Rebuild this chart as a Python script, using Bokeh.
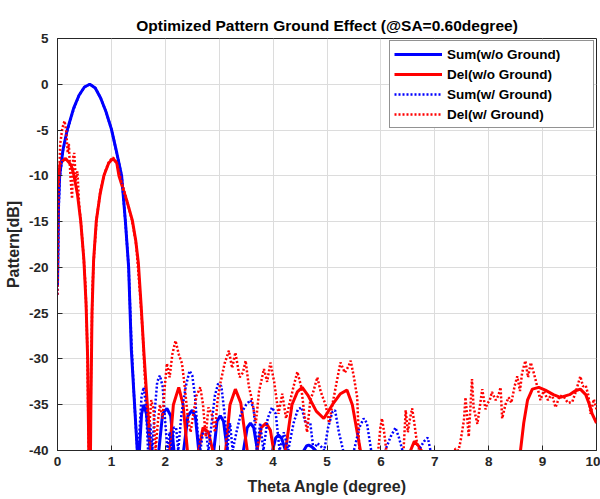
from bokeh.plotting import figure
from bokeh.models import Legend, LegendItem, FixedTicker
from bokeh.embed import file_html
from bokeh.resources import INLINE

# ---- data ----
sum_nog_x = [0, 0.02, 0.04, 0.1, 0.18, 0.3, 0.4, 0.5, 0.6, 0.7, 0.8, 0.9, 1.0, 1.1, 1.19, 1.26, 1.32, 1.37, 1.42, 1.48,
             1.5, 1.52, 1.56, 1.6, 1.65, 1.72, 1.8, 1.88, 1.95, 2.03, 2.1, 2.16, 2.25, 2.34, 2.42, 2.5, 2.56, 2.62,
             2.76, 2.9, 2.96, 3.02, 3.08, 3.15, 3.3, 3.45, 3.52, 3.58, 3.64, 3.71, 3.85, 3.99, 4.05, 4.1, 4.16,
             4.23, 4.4, 4.57, 4.62, 4.66, 4.72, 4.79, 4.9, 10]
sum_nog_y = [-22, -13, -10, -7.2, -5, -2.6, -1.2, -0.3, 0, -0.4, -1.5, -3, -4.9, -7.5, -10, -15, -20, -29, -34, -40,
             -42, -40, -36, -35, -36, -40, -46, -40, -36, -35.4, -36.2, -40, -46, -40, -36.2, -35.6, -36.4, -40,
             -46, -40, -36.8, -36.2, -36.8, -40, -46, -40, -37.5, -37, -37.5, -40, -46, -40, -38.6, -38.3, -38.7,
             -40, -46, -40, -39.5, -39.4, -39.6, -40, -46, -46]

del_nog_x = [0, 0.05, 0.15, 0.25, 0.3, 0.37, 0.43, 0.49, 0.53, 0.56, 0.58, 0.6, 0.62, 0.64, 0.67, 0.72, 0.79, 0.86,
             0.95, 1.03, 1.1, 1.14, 1.22, 1.3, 1.39, 1.45, 1.5, 1.55, 1.6, 1.66, 1.73, 1.78,
             1.95, 2.08, 2.15, 2.25, 2.33, 2.41, 2.5, 2.62, 2.7, 2.8, 2.88, 3.0, 3.12, 3.2, 3.3, 3.4, 3.52, 3.6,
             3.7, 3.78, 3.87, 3.95, 4.01, 4.12, 4.23, 4.35, 4.45, 4.54, 4.65, 4.8, 4.94, 5.1, 5.25, 5.37, 5.47,
             5.56, 5.62, 5.7, 6.45, 6.55, 6.62, 6.7, 6.75, 6.85, 8.5, 8.59, 8.65, 8.72, 8.81, 8.93, 9.05, 9.2,
             9.33, 9.5, 9.6, 9.7, 9.8, 9.87, 9.92, 10]
del_nog_y = [-11, -8.6, -8.1, -8.8, -9.8, -12, -14.9, -19.2, -24, -30, -40, -48, -35, -25, -19.2, -14.9, -12, -10,
             -8.6, -8.1, -8.6, -10, -11.5, -13, -14.9, -17, -19.5, -24, -29, -34.5, -40, -46,
             -46, -40, -35, -33.1, -35, -40, -46, -40, -37.5, -38, -40, -46, -40, -35, -33.3, -34.8, -40, -46,
             -40, -37.5, -37, -37.8, -40, -46, -40, -35, -33.6, -33.1, -34, -35.7, -36.5, -35, -33.8, -33.4, -35,
             -38, -40, -46, -46, -40, -39, -39.5, -40, -46, -46, -40, -37, -34.5, -33.3, -33.1, -33.4, -33.9,
             -34.2, -33.9, -33.5, -33.3, -33.9, -35, -36, -37]

sum_g_x = [0, 0.02, 0.04, 0.1, 0.18, 0.3, 0.4, 0.5, 0.6, 0.7, 0.8, 0.9, 1.0, 1.1, 1.19, 1.26, 1.32, 1.37, 1.42,
           1.48, 1.52, 1.56, 1.6, 1.64, 1.68, 1.72, 1.76, 1.8, 1.85, 1.9, 1.95, 2.0, 2.04, 2.08, 2.12, 2.16, 2.2,
           2.24, 2.3, 2.38, 2.45, 2.5, 2.55, 2.6, 2.65, 2.7, 2.75, 2.8, 2.86, 2.92, 2.98, 3.04, 3.1, 3.15, 3.2,
           3.25, 3.32, 3.4, 3.5, 3.58, 3.64, 3.7, 3.76, 3.82, 3.9, 3.98, 4.05, 4.12, 4.2, 4.28, 4.38, 4.46, 4.53,
           4.6, 4.69, 4.75, 4.82, 4.88, 4.95, 5.02, 5.1, 5.15, 5.22, 5.3, 5.38, 5.5, 5.6, 5.68, 5.74, 5.82, 5.9,
           6.08, 6.18, 6.27, 6.33, 6.4, 6.5, 6.7, 6.8, 6.87, 6.92, 7.0, 10]
sum_g_y = [-23, -14, -10.3, -7.3, -5.1, -2.7, -1.2, -0.3, 0, -0.4, -1.5, -3, -4.9, -7.5, -10, -15, -20, -28, -34,
           -40, -38, -34, -33.1, -35, -40, -37, -40, -36, -32.5, -31.8, -33, -37, -40, -38, -40, -37.5, -37.5,
           -40, -36, -33, -31.3, -31.8, -34, -38, -40, -38, -37.8, -40, -37, -34, -32.7, -33, -36, -40, -37,
           -40, -38, -36, -35, -34.5, -35.5, -40, -37, -40, -36.5, -35.3, -36, -40, -38, -40, -37, -35.5, -35.3,
           -37, -37, -40, -39.2, -39.5, -40, -37.5, -35.8, -35.6, -38, -40, -44, -40, -37.5, -36.5, -37, -40, -44,
           -40, -38.5, -37.5, -38.5, -40, -44, -40, -39, -38.6, -40, -45, -45]

del_g_x = [0, 0.02, 0.05, 0.09, 0.13, 0.16, 0.19, 0.21, 0.24, 0.27, 0.29, 0.31, 0.34, 0.37, 0.4, 0.44, 0.48, 0.52,
           0.55, 0.58, 0.6, 0.62, 0.65, 0.68, 0.73, 0.8, 0.88, 0.96, 1.03, 1.1, 1.18, 1.28, 1.38, 1.46, 1.52, 1.58,
           1.62, 1.66, 1.7, 1.74, 1.78, 1.82, 1.86, 1.9, 1.95, 1.99, 2.03, 2.08, 2.13, 2.19, 2.25, 2.31, 2.36,
           2.42, 2.47, 2.52, 2.58, 2.65, 2.7, 2.75, 2.8, 2.86, 2.92, 2.97, 3.02, 3.1, 3.18, 3.24, 3.3, 3.38, 3.44,
           3.49, 3.55, 3.61, 3.68, 3.74, 3.83, 3.89, 3.95, 4.02, 4.1, 4.17, 4.24, 4.32, 4.38, 4.45, 4.52, 4.58,
           4.63, 4.69, 4.75, 4.82, 4.88, 4.94, 4.97, 5.04, 5.1, 5.18, 5.25, 5.33, 5.4, 5.44, 5.5, 5.56, 5.6, 5.65,
           5.9, 5.95, 5.99, 6.02, 6.06, 6.1, 6.18, 6.35, 6.42, 6.46, 6.5, 6.54, 6.58, 6.62, 6.67, 6.72, 6.8, 7.3,
           7.38, 7.44, 7.48, 7.54, 7.57, 7.63, 7.69, 7.72, 7.79, 7.84, 7.88, 7.94, 7.97, 8.02, 8.06, 8.13, 8.18,
           8.22, 8.25, 8.31, 8.37, 8.42, 8.48, 8.53, 8.58, 8.62, 8.68, 8.73, 8.78, 8.84, 8.9, 8.96, 9.02, 9.1,
           9.17, 9.24, 9.32, 9.4, 9.47, 9.55, 9.62, 9.7, 9.75, 9.8, 9.85, 9.89, 9.95, 10]
del_g_y = [-23, -12, -6.5, -4.8, -4.0, -5, -7.5, -6.5, -10, -12.5, -8, -7.5, -10.5, -9.5, -13, -15.5, -18.5, -22,
           -28, -40, -48, -32, -22, -18.5, -14.5, -11.5, -9.6, -8.4, -8.0, -8.6, -10.5, -12.5, -14.8, -17.5, -22,
           -27, -32, -35, -37.5, -34.5, -35.5, -40, -37, -35, -36.5, -33, -30.5, -32, -29.5, -28, -29.5, -30.5,
           -33, -36.5, -38, -36, -34, -33.1, -35, -38.5, -35.3, -36, -38, -34.5, -32.7, -30.5, -29.1, -31, -29.3,
           -32, -31.5, -30.2, -33, -34.5, -37, -33.5, -31.1, -32.5, -30.4, -32.5, -36, -33.8, -36.5, -34.5, -33,
           -31.4, -33, -36, -38, -34.5, -33.5, -32, -33.5, -34.5, -34.9, -37, -35, -32.5, -30.4, -31.5, -30.8,
           -30.2, -32, -34.2, -40, -44, -44, -40, -37.5, -36.5, -38, -40, -44, -44, -40, -35.6, -38, -36.5, -35.4,
           -37, -39.2, -40, -44, -44, -39.8, -40, -38.9, -36.7, -34.2, -38.5, -32.2, -35.3, -37.1, -35, -33.3,
           -35.5, -34.9, -34.5, -33.6, -34.5, -34, -33.1, -36.5, -35, -34.2, -34.8, -33, -31.9, -33.5, -31.5,
           -30.2, -32, -30.4, -31.6, -33, -34.5, -33.5, -34.5, -33.8, -35.3, -34, -34.2, -34.8, -34.7, -33.5,
           -31.9, -33, -32.9, -34, -36, -34.4, -35.5]

x_ticks = [0, 1, 2, 3, 4, 5, 6, 7, 8, 9, 10]
y_ticks = [-40, -35, -30, -25, -20, -15, -10, -5, 0, 5]
labels = ["Sum(w/o Ground)", "Del(w/o Ground)", "Sum(w/ Ground)", "Del(w/ Ground)"]

FONT = "Liberation Sans"
TXT = "#262626"

p = figure(width=600, height=499, x_range=(0, 10), y_range=(-40, 5),
           output_backend="svg", toolbar_location=None,
           title="Optimized Pattern Ground Effect (@SA=0.60degree)")
p.min_border_left = 57
p.min_border_right = 4
p.min_border_top = 38
p.min_border_bottom = 49
p.background_fill_color = "white"
p.border_fill_color = "white"
p.outline_line_color = TXT
p.outline_line_width = 1

p.title.align = "center"
p.title.text_font = FONT
p.title.text_font_size = "15.5px"
p.title.text_font_style = "bold"
p.title.text_color = "black"

r1 = p.line(sum_nog_x, sum_nog_y, line_color="#0000FF", line_width=3)
r2 = p.line(del_nog_x, del_nog_y, line_color="#FF0000", line_width=3)
r3 = p.line(sum_g_x, sum_g_y, line_color="#0000FF", line_width=2.5, line_dash="2 2")
r4 = p.line(del_g_x, del_g_y, line_color="#FF0000", line_width=2.5, line_dash="2 2")

xa = p.xaxis[0]
ya = p.yaxis[0]
for ax in (xa, ya):
    ax.major_label_text_font = FONT
    ax.major_label_text_font_size = "13.5px"
    ax.major_label_text_font_style = "bold"
    ax.major_label_text_color = TXT
    ax.axis_label_text_font = FONT
    ax.axis_label_text_font_size = "16px"
    ax.axis_label_text_font_style = "bold"
    ax.axis_label_text_color = TXT
    ax.axis_line_color = TXT
    ax.major_tick_line_color = TXT
    ax.major_tick_in = 5
    ax.major_tick_out = 0
    ax.minor_tick_line_color = None

xa.ticker = FixedTicker(ticks=x_ticks)
ya.ticker = FixedTicker(ticks=y_ticks)
xa.major_label_overrides = {t: str(t) for t in x_ticks}
ya.major_label_overrides = {t: str(t) for t in y_ticks}
xa.axis_label = "Theta Angle (degree)"
ya.axis_label = "Pattern[dB]"
xa.major_label_standoff = 6
xa.axis_label_standoff = 9
ya.major_label_standoff = 9
ya.axis_label_standoff = 4

p.grid.grid_line_color = "#DCDCDC"
p.grid.grid_line_width = 1

legend = Legend(items=[LegendItem(label=labels[0], renderers=[r1]),
                       LegendItem(label=labels[1], renderers=[r2]),
                       LegendItem(label=labels[2], renderers=[r3]),
                       LegendItem(label=labels[3], renderers=[r4])],
                location="top_right")
legend.margin = 2
legend.padding = 4
legend.spacing = 2
legend.glyph_width = 48
legend.glyph_height = 18
legend.label_height = 18
legend.label_width = 142
legend.label_standoff = 5
legend.label_text_font = FONT
legend.label_text_font_size = "13.5px"
legend.label_text_font_style = "bold"
legend.label_text_color = "black"
legend.border_line_color = TXT
legend.border_line_width = 1
legend.background_fill_color = "white"
legend.background_fill_alpha = 1
p.add_layout(legend)

open("out.html", "w").write(file_html(p, INLINE))
